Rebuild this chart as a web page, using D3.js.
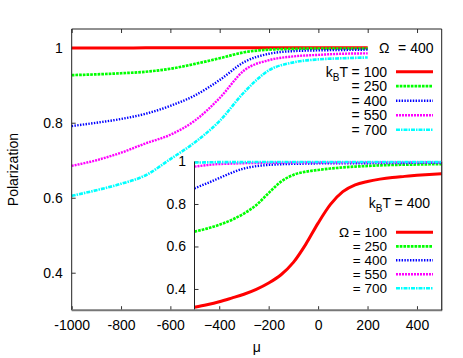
<!DOCTYPE html>
<html>
<head>
<meta charset="utf-8">
<script src="https://cdn.jsdelivr.net/npm/d3@7"></script>
<style>
  body { margin: 0; background: #fff; }
  svg { font-family: "Liberation Sans", Arial, sans-serif; }
</style>
</head>
<body>
<div id="container"></div>
<script>
/* CONSTANTS AND GLOBALS */
const width = 463,
  height = 358;

/* DATA */
// main plot: Omega = 400, varying kBT
const muMain = [-1000, -900, -800, -700, -600, -500, -400, -300, -200, -100, 0, 100, 200];
const kbtLabels = ["100", "250", "400", "550", "700"];
const mainT100 = [0.999, 0.999, 0.999, 1, 1, 1, 1, 1, 1, 1, 1, 1, 1];
const mainT250 = [0.927, 0.929, 0.932, 0.936, 0.944, 0.957, 0.972, 0.988, 0.995, 0.997, 0.998, 0.998, 0.998];
const mainT400 = [0.791, 0.800, 0.810, 0.824, 0.845, 0.873, 0.914, 0.962, 0.984, 0.991, 0.993, 0.994, 0.995];
const mainT550 = [0.685, 0.700, 0.720, 0.745, 0.768, 0.806, 0.866, 0.940, 0.967, 0.977, 0.981, 0.984, 0.985];
const mainT700 = [0.605, 0.620, 0.637, 0.660, 0.703, 0.748, 0.805, 0.882, 0.940, 0.961, 0.969, 0.972, 0.974];

// inset: kBT = 400, varying Omega
const muInset = [-500, -450, -400, -350, -300, -250, -200, -150, -100, -50, 0, 50, 100, 150, 200, 250, 300, 350, 400, 450, 500];
const omegaLabels = ["100", "250", "400", "550", "700"];
const insetO100 = [0.314, 0.326, 0.340, 0.357, 0.375, 0.398, 0.428, 0.467, 0.525, 0.610, 0.710, 0.798, 0.858, 0.890, 0.906, 0.917, 0.925, 0.930, 0.935, 0.939, 0.942];
const insetO250 = [0.670, 0.684, 0.702, 0.725, 0.755, 0.795, 0.852, 0.905, 0.937, 0.952, 0.960, 0.967, 0.972, 0.976, 0.979, 0.982, 0.984, 0.985, 0.986, 0.987, 0.988];
const insetO400 = [0.874, 0.897, 0.922, 0.947, 0.967, 0.978, 0.984, 0.987, 0.989, 0.990, 0.991, 0.991, 0.992, 0.992, 0.992, 0.993, 0.993, 0.993, 0.994, 0.994, 0.994];
const insetO550 = [0.976, 0.983, 0.988, 0.990, 0.992, 0.993, 0.994, 0.994, 0.995, 0.995, 0.995, 0.995, 0.995, 0.996, 0.996, 0.996, 0.996, 0.996, 0.996, 0.996, 0.996];
const insetO700 = [0.995, 0.996, 0.997, 0.997, 0.997, 0.998, 0.998, 0.998, 0.998, 0.998, 0.998, 0.998, 0.998, 0.998, 0.998, 0.998, 0.998, 0.998, 0.998, 0.998, 0.998];

// ticks
const mainXTicks = [-1000, -800, -600, -400, -200, 0, 200, 400];
const mainXLabels = [-1000, -800, -600];
const mainYTicks = [0.4, 0.6, 0.8, 1];
const insetXTicks = [-400, -200, 0, 200, 400];
const insetYTicks = [0.4, 0.6, 0.8, 1];

// styles per series
const styles = [
  { color: "#ff0000", dash: null, w: 3 },
  { color: "#00ff00", dash: "2.7,1", w: 2.7 },
  { color: "#0000ff", dash: "1.4,1.4", w: 2.4 },
  { color: "#ff00ff", dash: "2,1", w: 2.4 },
  { color: "#00ffff", dash: "4,1,1.5,1", w: 2.6 }
];

const mainSeries = [mainT100, mainT250, mainT400, mainT550, mainT700];
const insetSeries = [insetO100, insetO250, insetO400, insetO550, insetO700];

/* SVG */
const svg = d3.select("#container")
  .append("svg")
  .attr("width", width)
  .attr("height", height);

/* SCALES */
const x = d3.scaleLinear().domain([-1000, 500]).range([71.7, 441.7]);
const y = d3.scaleLinear().domain([0.3, 1.05]).range([310.2, 29]);
const xi = d3.scaleLinear().domain([-500, 500]).range([194.5, 441.7]);
const yi = d3.scaleLinear().domain([0.3, 1]).range([310.2, 161.5]);

const fmt = d => d === 1 ? "1" : d3.format(".1f")(d);

function styleAxis(g) {
  g.select(".domain").remove();
  g.selectAll("line").attr("stroke", "#333");
  g.selectAll("text").attr("font-size", 14).attr("fill", "#000");
}

/* MAIN AXES */
svg.append("g")
  .attr("transform", "translate(0,310.2)")
  .call(d3.axisBottom(x).tickValues(mainXTicks).tickSize(-4).tickPadding(10)
    .tickFormat(d => mainXLabels.includes(d) ? d : ""))
  .call(styleAxis);

svg.append("g")
  .attr("transform", "translate(0,29)")
  .call(d3.axisTop(x).tickValues(mainXTicks).tickSize(-4).tickFormat(""))
  .call(styleAxis);

svg.append("g")
  .attr("transform", "translate(71.7,0)")
  .call(d3.axisLeft(y).tickValues(mainYTicks).tickSize(-4).tickPadding(9).tickFormat(fmt))
  .call(styleAxis);

/* MAIN CURVES */
const lineMain = d3.line()
  .x((d, i) => x(muMain[i]))
  .y(d => y(d))
  .curve(d3.curveMonotoneX);

svg.selectAll("path.main")
  .data(mainSeries)
  .join("path")
  .attr("class", "main")
  .attr("d", d => lineMain(d))
  .attr("fill", "none")
  .attr("stroke", (d, i) => styles[i].color)
  .attr("stroke-width", (d, i) => styles[i].w)
  .attr("stroke-dasharray", (d, i) => styles[i].dash);

/* MAIN FRAME */
svg.append("path")
  .attr("d", `M71.7,310.2V29H441.7V310.2`)
  .attr("fill", "none")
  .attr("stroke", "#222")
  .attr("stroke-width", 1);

/* MAIN LEGEND */
svg.append("text")
  .attr("x", 379).attr("y", 53)
  .attr("font-size", 14)
  .text("\u03A9");
svg.append("text")
  .attr("x", 433.5).attr("y", 53)
  .attr("text-anchor", "end").attr("font-size", 14)
  .text("= 400");

const legMain = svg.selectAll("g.legMain")
  .data(kbtLabels)
  .join("g")
  .attr("class", "legMain")
  .attr("transform", (d, i) => `translate(0,${71.7 + i * 14.5})`);

legMain.append("text")
  .attr("x", 387).attr("y", 5)
  .attr("text-anchor", "end").attr("font-size", 14)
  .each(function (d, i) {
    const t = d3.select(this);
    if (i === 0) {
      t.append("tspan").text("k");
      t.append("tspan").attr("font-size", 10).attr("dy", 4).text("B");
      t.append("tspan").attr("dy", -4).text("T = " + d);
    } else {
      t.text("= " + d);
    }
  });

legMain.append("line")
  .attr("x1", 396).attr("x2", 433)
  .attr("stroke", (d, i) => styles[i].color)
  .attr("stroke-width", (d, i) => styles[i].w)
  .attr("stroke-dasharray", (d, i) => styles[i].dash);

/* INSET */
svg.append("rect")
  .attr("x", 194.5).attr("y", 161.5)
  .attr("width", 441.7 - 194.5).attr("height", 310.2 - 161.5)
  .attr("fill", "#fff");

svg.append("g")
  .attr("transform", "translate(0,310.2)")
  .call(d3.axisBottom(xi).tickValues(insetXTicks).tickSize(-4).tickPadding(10))
  .call(styleAxis);

svg.append("g")
  .attr("transform", "translate(194.5,0)")
  .call(d3.axisLeft(yi).tickValues(insetYTicks).tickSize(-4).tickPadding(8.5).tickFormat(fmt))
  .call(styleAxis);

const lineInset = d3.line()
  .x((d, i) => xi(muInset[i]))
  .y(d => yi(d))
  .curve(d3.curveMonotoneX);

svg.selectAll("path.inset")
  .data(insetSeries)
  .join("path")
  .attr("class", "inset")
  .attr("d", d => lineInset(d))
  .attr("fill", "none")
  .attr("stroke", (d, i) => styles[i].color)
  .attr("stroke-width", (d, i) => styles[i].w)
  .attr("stroke-dasharray", (d, i) => styles[i].dash);

// inset left axis line and shared bottom line
svg.append("line")
  .attr("x1", 194.5).attr("x2", 194.5).attr("y1", 161.5).attr("y2", 310.2)
  .attr("stroke", "#222");
svg.append("line")
  .attr("x1", 71.7).attr("x2", 442.2).attr("y1", 310.2).attr("y2", 310.2)
  .attr("stroke", "#777").attr("stroke-width", 2);
svg.append("line")
  .attr("x1", 441.7).attr("x2", 441.7).attr("y1", 161.5).attr("y2", 310.2)
  .attr("stroke", "#222");

/* INSET LEGEND */
const kt = svg.append("text")
  .attr("x", 430).attr("y", 208)
  .attr("text-anchor", "end").attr("font-size", 14);
kt.append("tspan").text("k");
kt.append("tspan").attr("font-size", 10).attr("dy", 4).text("B");
kt.append("tspan").attr("dy", -4).text("T = 400");

const legInset = svg.selectAll("g.legInset")
  .data(omegaLabels)
  .join("g")
  .attr("class", "legInset")
  .attr("transform", (d, i) => `translate(0,${232.3 + i * 14})`);

legInset.append("text")
  .attr("x", 387).attr("y", 5)
  .attr("text-anchor", "end").attr("font-size", 13.5)
  .text((d, i) => (i === 0 ? "\u03A9 = " : "= ") + d);

legInset.append("line")
  .attr("x1", 396).attr("x2", 433)
  .attr("stroke", (d, i) => styles[i].color)
  .attr("stroke-width", (d, i) => styles[i].w)
  .attr("stroke-dasharray", (d, i) => styles[i].dash);

/* AXIS TITLES */
svg.append("text")
  .attr("x", 256.7).attr("y", 352)
  .attr("text-anchor", "middle").attr("font-size", 14)
  .text("\u03BC");

svg.append("text")
  .attr("transform", "translate(18,169.6) rotate(-90)")
  .attr("text-anchor", "middle").attr("font-size", 14)
  .text("Polarization");
</script>
</body>
</html>
